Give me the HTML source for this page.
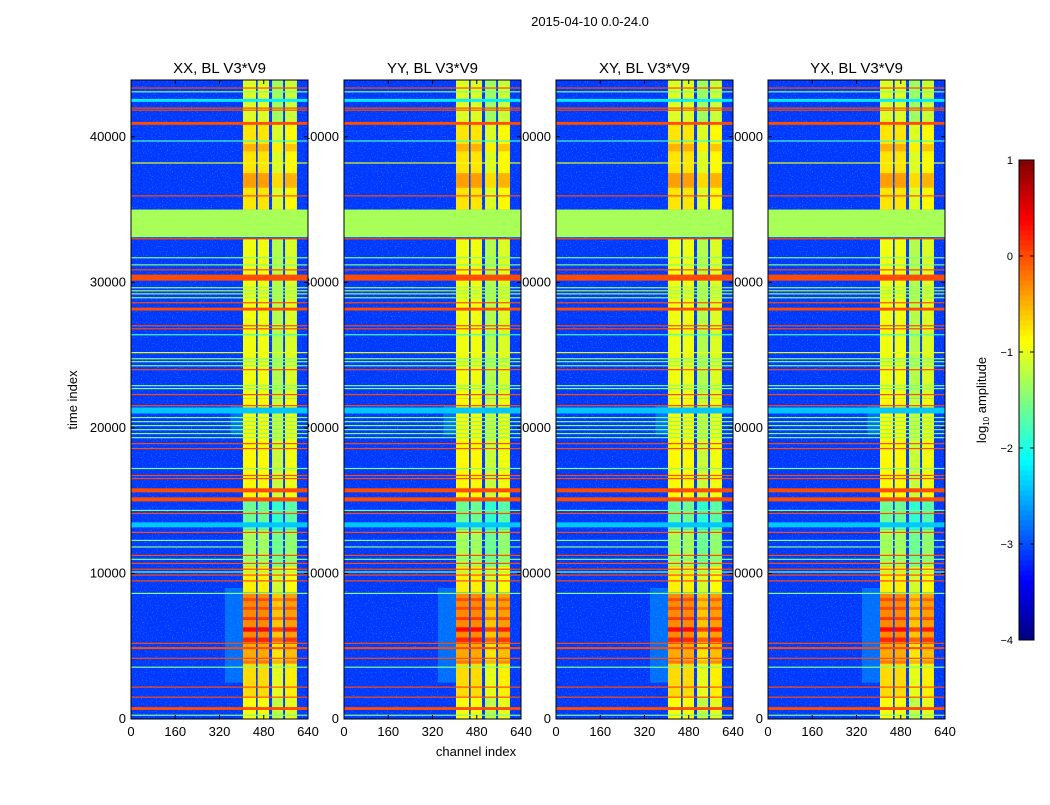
<!DOCTYPE html>
<html><head><meta charset="utf-8"><style>
body{margin:0;background:#fff;width:1050px;height:800px;overflow:hidden}
svg text{font-family:"Liberation Sans","DejaVu Sans",sans-serif;fill:#000}
</style></head><body>
<svg id="fig" width="1050" height="800" viewBox="0 0 1050 800" xmlns="http://www.w3.org/2000/svg">
<defs>
<filter id="noise" x="0" y="0" width="100%" height="100%">
<feTurbulence type="fractalNoise" baseFrequency="0.8" numOctaves="1" seed="3"/>
<feColorMatrix type="matrix" values="0 0 0 0 0.1  0 0 0 0 0.7  0 0 0 0 1  0 0 0 3 -1.7"/>
</filter>
</defs>
<rect width="1050" height="800" fill="#fff"/>
<text x="590" y="26" font-size="13" text-anchor="middle">2015-04-10 0.0-24.0</text>
<g id="labels"></g>
<g id="panels"></g>
<text transform="translate(77,400) rotate(-90)" font-size="13" text-anchor="middle">time index</text>
<text x="476" y="756" font-size="13" text-anchor="middle">channel index</text>
<g id="cbar"></g>
<text transform="translate(986,400) rotate(-90)" font-size="13" text-anchor="middle">log<tspan font-size="8" dy="3">10</tspan><tspan dy="-3"> amplitude</tspan></text>
</svg>
<script>
// ---- data ----
const panelTitles = ["XX, BL V3*V9","YY, BL V3*V9","XY, BL V3*V9","YX, BL V3*V9"];
const xTicks = [0,160,320,480,640];
const yTicks = [0,10000,20000,30000,40000];
const cbTicks = [1,0,-1,-2,-3,-4];
const bgLevel = -3.1;
// vertical bands: [ch0, ch1, offset]
const chanBands = [[405,452,0],[458,499,0],[510,550,-0.3],[557,600,-0.1]];
// band level by time range: [t0,t1,level]
const bandSegs = [[0,1500,-0.9],[1500,4000,-0.7],[4000,5200,-0.45],[5200,8700,-0.3],[8700,10500,-0.8],
 [10500,13000,-1.3],[13000,15000,-1.6],[15000,22000,-0.85],[22000,33000,-0.95],[35000,41000,-0.75],[41000,43900,-1.05]];
// warm rows inside bands: [t0,t1,level]
const bandHot = [[5300,5600,0.2],[6000,6300,0.35],[6800,7000,0.1],[7500,7700,0.0],[8100,8300,0.0],[3800,4000,-0.2],[36500,37500,-0.4],[39000,39500,-0.5]];
// fringe left of bands: [ch0,ch1,t0,t1,level]
const fringe = [[340,405,2500,9000,-2.5],[360,405,19500,21500,-2.5]];
// horizontal rows: [t0,t1,level]
const rows = [
[43320,43390,0],[43070,43130,-1.5],[42400,42600,-2.2],[41940,42010,0],[41810,41870,0],[40820,41020,0],
[39690,39750,-1.8],[38180,38240,-1.0],[35920,35980,0],[33100,35000,-1.3],[32960,33030,0],
[31670,31730,-1.5],[31180,31240,-1.5],[30840,30900,0],[30115,30530,0],
[29610,29670,-1.4],[29400,29460,-1.4],[29190,29250,-1.4],[28920,28980,-1.4],[28580,28640,0],[28060,28260,0],
[27000,27060,0],[26790,26850,0],[26380,26440,-1.8],[25150,25210,-1.0],[24730,24790,-1.5],[24530,24590,-1.5],
[24250,24310,-1.5],[23980,24040,0],[22880,22940,-1.5],[22680,22740,-1.5],[22270,22330,0],[21510,21570,0],
[20990,21400,-2.4],[20690,20750,-1.5],[20410,20470,-1.5],[20140,20200,-1.5],[19860,19920,-1.5],[19590,19650,-1.5],
[19310,19370,-1.5],[18900,18960,0],[18560,18620,0],[17190,17250,-1.5],[16710,16770,0],[16500,16560,0],
[15570,15850,0],[14950,15230,0],[14310,14370,-1.5],[14100,14160,0],[13170,13510,-2.4],[12800,12860,0],
[12250,12310,-1.5],[11800,11860,-1.5],[11220,11280,0],[10950,11010,-1.5],[10670,10730,0],[10270,10330,0],
[10080,10140,-1.5],[9870,9930,0],[9470,9530,0],[8610,8670,-1.5],[5180,5240,0],[4800,4940,0],[4150,4210,0],
[3540,3600,-1.5],[2170,2230,0],[1480,1540,0],[620,820,0],[240,300,-1.5]
];
// ---- geometry ----
const panelX = [131,344,556,768], PW = 177, PT = 80, PB = 719;
const tMax = 43900, chMax = 640;
const NS = "http://www.w3.org/2000/svg";
function el(tag, attrs, parent){const e=document.createElementNS(NS,tag);for(const k in attrs)e.setAttribute(k,attrs[k]);parent.appendChild(e);return e;}
function jet(l){let v=(l+4)/5;v=Math.max(0,Math.min(1,v));const c=x=>Math.round(255*Math.max(0,Math.min(1,x)));
 return `rgb(${c(1.5-Math.abs(4*v-3))},${c(1.5-Math.abs(4*v-2))},${c(1.5-Math.abs(4*v-1))})`;}
const yS = t => PB - (t/tMax)*(PB-PT);
const labels = document.getElementById('labels'), panels = document.getElementById('panels');
panelX.forEach((x0,p)=>{
 const xS = ch => x0 + ch/chMax*PW;
 yTicks.forEach(t=>{const tx=el('text',{x:x0-5,y:yS(t)+4,'font-size':13,'text-anchor':'end'},labels);tx.textContent=t;
  
  });
 xTicks.forEach(c=>{const tx=el('text',{x:xS(c),y:PB+17,'font-size':13,'text-anchor':'middle'},labels);tx.textContent=c;
  
  });
 const g=el('g',{},panels);
 
 
 const tt=el('text',{x:x0+PW/2,y:PT-7,'font-size':15,'text-anchor':'middle'},g);tt.textContent=panelTitles[p];
 
 
 el('rect',{x:x0,y:PT,width:PW,height:PB-PT,fill:jet(bgLevel)},g);
 el('rect',{x:x0,y:PT,width:PW,height:PB-PT,filter:'url(#noise)',opacity:0.6},g);
 fringe.forEach(f=>{el('rect',{x:xS(f[0]),y:yS(f[3]),width:xS(f[1])-xS(f[0]),height:yS(f[2])-yS(f[3]),fill:jet(f[4]),opacity:0.45},g);});
 chanBands.forEach(b=>{bandSegs.forEach(s=>{
  const r=el('rect',{x:xS(b[0]),y:yS(s[1]),width:xS(b[1])-xS(b[0]),height:yS(s[0])-yS(s[1]),fill:jet(s[2]+b[2])},g);
  
  
 });
 bandHot.forEach(s=>{
  const r=el('rect',{x:xS(b[0]),y:yS(s[1]),width:xS(b[1])-xS(b[0]),height:yS(s[0])-yS(s[1]),fill:jet(s[2]+b[2])},g);
  
  
 });});
 rows.forEach(r=>{const h=Math.max(1.2,yS(r[0])-yS(r[1]));
  const e=el('rect',{x:x0,y:yS(r[1]),width:PW,height:h,fill:jet(r[2])},g);
  
  });
 el('rect',{x:x0,y:PT,width:PW,height:PB-PT,fill:'none',stroke:'#000','stroke-width':1},g);
 yTicks.forEach(t=>{el('line',{x1:x0,x2:x0+4,y1:yS(t),y2:yS(t),stroke:'#000'},g);el('line',{x1:x0+PW-4,x2:x0+PW,y1:yS(t),y2:yS(t),stroke:'#000'},g);});
 xTicks.forEach(c=>{el('line',{x1:xS(c),x2:xS(c),y1:PB,y2:PB-4,stroke:'#000'},g);el('line',{x1:xS(c),x2:xS(c),y1:PT,y2:PT+4,stroke:'#000'},g);});
});
// colorbar
const cb=document.getElementById('cbar'), CX=1019, CW=15, CT=160, CB=640;
const cy = l => CB - (l+4)/5*(CB-CT);
for(let i=0;i<96;i++){const l0=-4+i*5/96,l1=-4+(i+1)*5/96;
 el('rect',{x:CX,y:cy(l1),width:CW,height:cy(l0)-cy(l1)+0.5,fill:jet((l0+l1)/2)},cb);}
el('rect',{x:CX,y:CT,width:CW,height:CB-CT,fill:'none',stroke:'#000'},cb);
cbTicks.forEach(l=>{const tx=el('text',{x:CX-6,y:cy(l)+4,'font-size':11,'text-anchor':'end'},cb);tx.textContent=(l<0?'\u2212'+(-l):l);
 
 
 el('line',{x1:CX,x2:CX+4,y1:cy(l),y2:cy(l),stroke:'#000'},cb);el('line',{x1:CX+CW-4,x2:CX+CW,y1:cy(l),y2:cy(l),stroke:'#000'},cb);});
</script>
</body></html>
